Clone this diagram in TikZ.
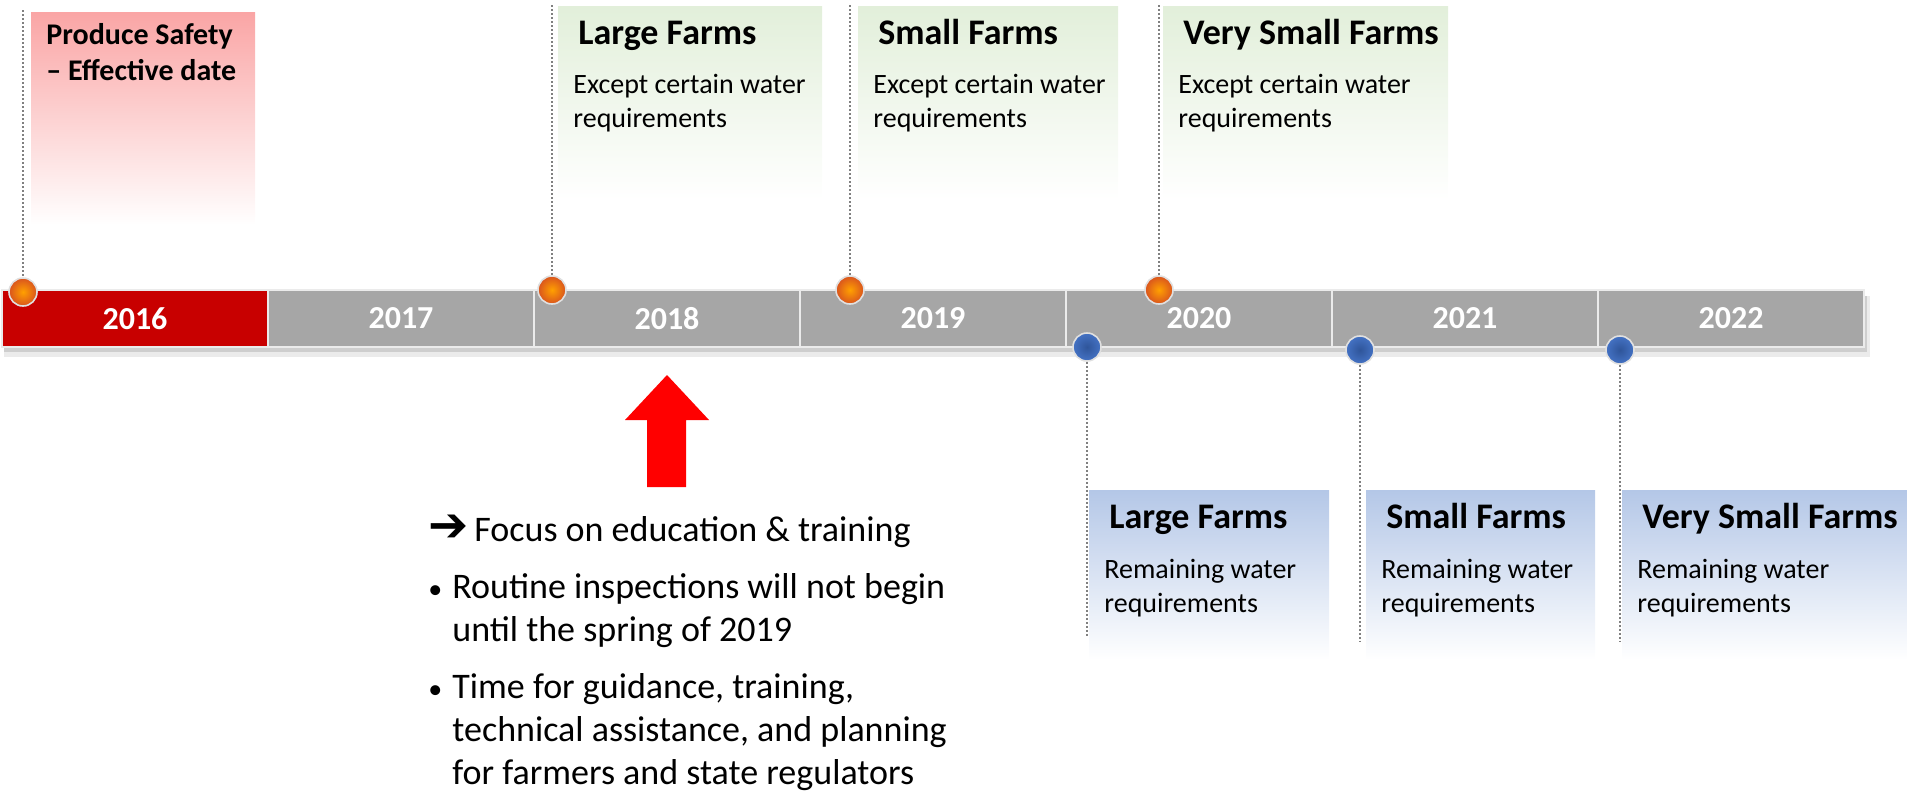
\documentclass[tikz,border=0pt]{standalone}
\usepackage{fontspec}
\setmainfont{Carlito}
\newfontfamily\arrowfont{DejaVu Sans}
\usetikzlibrary{positioning}
\definecolor{bargray}{HTML}{A6A6A6}
\definecolor{yearred}{HTML}{C80000}
\definecolor{pinktop}{HTML}{FAA5A5}
\definecolor{greentop}{HTML}{E2EFDA}
\definecolor{bluetop}{HTML}{B4C7E7}
\definecolor{guidegray}{HTML}{808080}
\definecolor{ballorange}{HTML}{D9541E}
\definecolor{ballyellow}{HTML}{FFA000}
\definecolor{ballblue}{HTML}{4472C4}
\definecolor{balldark}{HTML}{2F559A}
\definecolor{alertred}{HTML}{FF0000}
\tikzset{
  yearbox/.style={draw=white!92!black, line width=1pt, fill=bargray, minimum width=133pt, minimum height=28.5pt, inner sep=0pt, outer sep=0pt, text=white, font=\fontsize{16}{19}\selectfont\bfseries},
  guide/.style={draw=guidegray, line width=1pt, dash pattern=on 1pt off 1pt},
  hotdot/.style={circle, minimum size=14pt, inner sep=0pt, draw=white!88!black, line width=0.8pt, inner color=ballyellow, outer color=ballorange},
  colddot/.style={circle, minimum size=14pt, inner sep=0pt, draw=white!88!black, line width=0.8pt, inner color=balldark, outer color=ballblue},
  notebox/.style={inner sep=0pt, outer sep=0pt, anchor=north west},
  safetybox/.style={notebox, minimum width=112pt, minimum height=106.5pt, top color=pinktop, middle color=pinktop!75, bottom color=white},
  earlybox/.style={notebox, minimum height=97pt, top color=greentop, bottom color=white},
  waterbox/.style={notebox, minimum height=85pt, top color=bluetop, bottom color=white},
  safetytitle/.style={inner sep=0pt, align=left, font=\fontsize{15}{18}\selectfont\bfseries},
  farmtitle/.style={inner sep=0pt, font=\fontsize{18}{21}\selectfont\bfseries},
  farmtext/.style={inner sep=0pt, align=left, font=\fontsize{14}{17}\selectfont},
  plan/.style={inner sep=0pt, align=left, font=\fontsize{18}{21.5}\selectfont}
}
\newcommand{\planbullet}{\makebox[12pt][l]{\fontsize{14}{14}\selectfont\textbullet}}

\begin{document}
\begin{tikzpicture}[x=0.5pt, y=-0.5pt]
  \useasboundingbox (0,0) rectangle (1907,793);

  % year bar
  \fill[black, opacity=0.08] (4,296) rectangle (1870,357);
  \fill[black, opacity=0.12] (4,296) rectangle (1867,352);
  \node[yearbox, fill=yearred] (y2016) at (135,318.5) {2016};
  \node[yearbox, right=0pt of y2016] (y2017) {2017};
  \node[yearbox, right=0pt of y2017] (y2018) {2018};
  \node[yearbox, right=0pt of y2018] (y2019) {2019};
  \node[yearbox, right=0pt of y2019] (y2020) {2020};
  \node[yearbox, right=0pt of y2020] (y2021) {2021};
  \node[yearbox, right=0pt of y2021] (y2022) {2022};

  % pins on the bar
  \node[hotdot] (pinsafety) at (23,292) {};
  \node[hotdot] (pinlarge) at (552,290) {};
  \node[hotdot] (pinsmall) at (850,290) {};
  \node[hotdot] (pinvsmall) at (1159,290) {};
  \node[colddot] (wpinlarge) at (1087,347) {};
  \node[colddot] (wpinsmall) at (1360,350) {};
  \node[colddot] (wpinvsmall) at (1620,350) {};

  \coordinate (topsafety) at (23,10);
  \coordinate (toplarge) at (552,5);
  \coordinate (topsmall) at (850,5);
  \coordinate (topvsmall) at (1159,5);
  \coordinate (endlarge) at (1087,637);
  \coordinate (endsmall) at (1360,642);
  \coordinate (endvsmall) at (1620,642);

  \draw[guide] (topsafety) -- (pinsafety);
  \draw[guide] (toplarge) -- (pinlarge);
  \draw[guide] (topsmall) -- (pinsmall);
  \draw[guide] (topvsmall) -- (pinvsmall);
  \draw[guide] (wpinlarge) -- (endlarge);
  \draw[guide] (wpinsmall) -- (endsmall);
  \draw[guide] (wpinvsmall) -- (endvsmall);

  % effective date
  \node[safetybox] (safety) at (31,12) {};
  \node[safetytitle, below right=34pt and 7.5pt of safety.north west, anchor=base west] {Produce Safety\\– Effective date};

  % compliance, except water
  \node[earlybox, minimum width=132pt] (early2018) at (558,6) {};
  \node[farmtitle, below right=19pt and 10pt of early2018.north west, anchor=base west] (early2018title) {Large Farms};
  \node[farmtext, below right=41.5pt and -2.5pt of early2018title.base west, anchor=base west] {Except certain water\\requirements};

  \node[earlybox, minimum width=130pt] (early2019) at (858,6) {};
  \node[farmtitle, below right=19pt and 10pt of early2019.north west, anchor=base west] (early2019title) {Small Farms};
  \node[farmtext, below right=41.5pt and -2.5pt of early2019title.base west, anchor=base west] {Except certain water\\requirements};

  \node[earlybox, minimum width=142.5pt] (early2020) at (1163,6) {};
  \node[farmtitle, below right=19pt and 10pt of early2020.north west, anchor=base west] (early2020title) {Very Small Farms};
  \node[farmtext, below right=41.5pt and -2.5pt of early2020title.base west, anchor=base west] {Except certain water\\requirements};

  % compliance, water
  \node[waterbox, minimum width=120pt] (water2020) at (1089,490) {};
  \node[farmtitle, below right=19pt and 10pt of water2020.north west, anchor=base west] (water2020title) {Large Farms};
  \node[farmtext, below right=42pt and -2.5pt of water2020title.base west, anchor=base west] {Remaining water\\requirements};

  \node[waterbox, minimum width=114.5pt] (water2021) at (1366,490) {};
  \node[farmtitle, below right=19pt and 10pt of water2021.north west, anchor=base west] (water2021title) {Small Farms};
  \node[farmtext, below right=42pt and -2.5pt of water2021title.base west, anchor=base west] {Remaining water\\requirements};

  \node[waterbox, minimum width=142.5pt] (water2022) at (1622,490) {};
  \node[farmtitle, below right=19pt and 10pt of water2022.north west, anchor=base west] (water2022title) {Very Small Farms};
  \node[farmtext, below right=42pt and -2.5pt of water2022title.base west, anchor=base west] {Remaining water\\requirements};

  % enforcement note
  \fill[alertred] (647,487) -- (647,420) -- (625,420) -- (667,375) -- (709,420) -- (686,420) -- (686,487) -- cycle;
  \node[plan, anchor=base west] (focus) at (428,541) {\makebox[23pt][l]{\arrowfont\bfseries\fontsize{24}{24}\selectfont ➔}Focus on education \& training};
  \node[plan, below=50pt of focus.base west, anchor=base west] (routine) {\planbullet Routine inspections will not begin\\\hspace*{12pt}until the spring of 2019};
  \node[plan, below=71.5pt of routine.base west, anchor=base west] (guidance) {\planbullet Time for guidance, training,\\\hspace*{12pt}technical assistance, and planning\\\hspace*{12pt}for farmers and state regulators};
\end{tikzpicture}
\end{document}
